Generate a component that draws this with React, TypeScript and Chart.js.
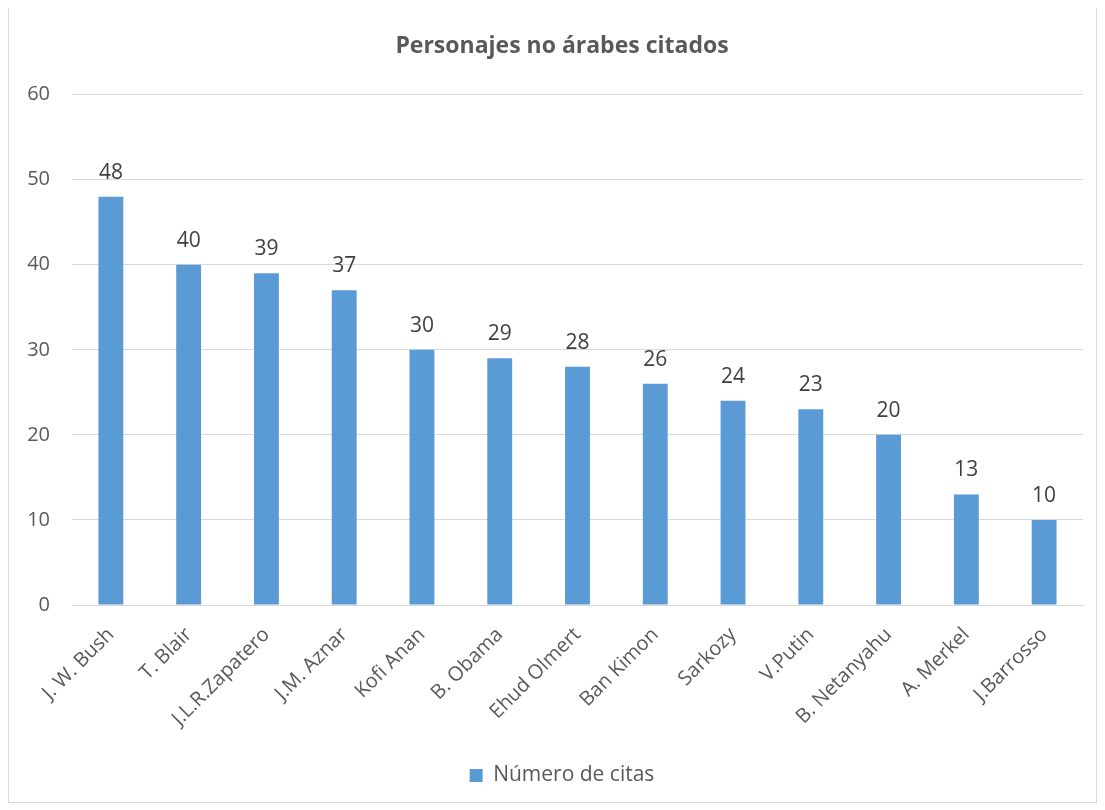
import React, { useEffect, useRef } from "react";
import { Chart, registerables } from "chart.js";

Chart.register(...registerables);

const categories = [
  "J. W. Bush",
  "T. Blair",
  "J.L.R.Zapatero",
  "J.M. Aznar",
  "Kofi Anan",
  "B. Obama",
  "Ehud Olmert",
  "Ban Kimon",
  "Sarkozy",
  "V.Putin",
  "B. Netanyahu",
  "A. Merkel",
  "J.Barrosso",
];
const citas = [48, 40, 39, 37, 30, 29, 28, 26, 24, 23, 20, 13, 10];
const seriesName = "Número de citas";
const chartTitle = "Personajes no árabes citados";

const FONT = "'Open Sans', 'Noto Sans', sans-serif";

const valueLabels = {
  id: "valueLabels",
  afterDatasetsDraw(chart: any) {
    const ctx = chart.ctx;
    const meta = chart.getDatasetMeta(0);
    ctx.save();
    ctx.font = `21px ${FONT}`;
    ctx.fillStyle = "#404040";
    ctx.textAlign = "center";
    ctx.textBaseline = "alphabetic";
    meta.data.forEach((bar: any, i: number) => {
      ctx.fillText(String(chart.data.datasets[0].data[i]), bar.x, bar.y - 18);
    });
    ctx.restore();
  },
};

export default function App() {
  const ref = useRef<HTMLCanvasElement>(null);
  useEffect(() => {
    if (!ref.current) return;
    const chart = new Chart(ref.current, {
      type: "bar",
      data: {
        labels: categories,
        datasets: [
          {
            label: seriesName,
            data: citas,
            backgroundColor: "#5B9BD5",
            categoryPercentage: 1,
            barPercentage: 0.32,
          },
        ],
      },
      options: {
        responsive: false,
        maintainAspectRatio: false,
        animation: false,
        devicePixelRatio: 1,
        layout: { padding: { left: 0, right: 0, top: 0, bottom: 6 } },
        plugins: {
          title: {
            display: true,
            text: chartTitle,
            color: "#595959",
            font: { family: FONT, size: 23, weight: "bold" },
            padding: { top: 26, bottom: 34 },
          },
          legend: {
            display: true,
            position: "bottom",
            labels: {
              color: "#595959",
              font: { family: FONT, size: 21 },
              boxWidth: 13,
              boxHeight: 13,
              padding: 10,
            },
          },
          tooltip: { enabled: false },
        },
        scales: {
          x: {
            grid: { display: false, drawTicks: false },
            border: { color: "#d9d9d9", width: 1 },
            ticks: {
              color: "#595959",
              font: { family: FONT, size: 20 },
              minRotation: 45,
              maxRotation: 45,
              padding: 18,
              autoSkip: false,
            },
            afterFit: (s: any) => {
              s.height = 150;
            },
          },
          y: {
            min: 0,
            max: 60,
            grid: { color: "#d9d9d9", drawTicks: false },
            border: { display: false },
            ticks: {
              stepSize: 10,
              color: "#595959",
              font: { family: FONT, size: 20 },
              padding: 22,
            },
            afterFit: (s: any) => {
              s.width = 63;
            },
          },
          spacer: {
            type: "linear",
            position: "right",
            display: true,
            min: 0,
            max: 60,
            grid: { display: false, drawTicks: false },
            border: { display: false },
            ticks: { display: false },
            afterFit: (s: any) => {
              s.width = 32;
            },
          },
        },
      },
      plugins: [valueLabels],
    });
    return () => chart.destroy();
  }, []);
  return (
    <div
      style={{
        width: 1089,
        height: 797,
        border: "1px solid #d9d9d9",
        boxSizing: "border-box",
        marginTop: -2,
        overflow: "hidden",
        background: "#fff",
      }}
    >
      <canvas
        ref={ref}
        width={1106}
        height={795}
        style={{ display: "block", width: 1106, height: 795 }}
      />
    </div>
  );
}
